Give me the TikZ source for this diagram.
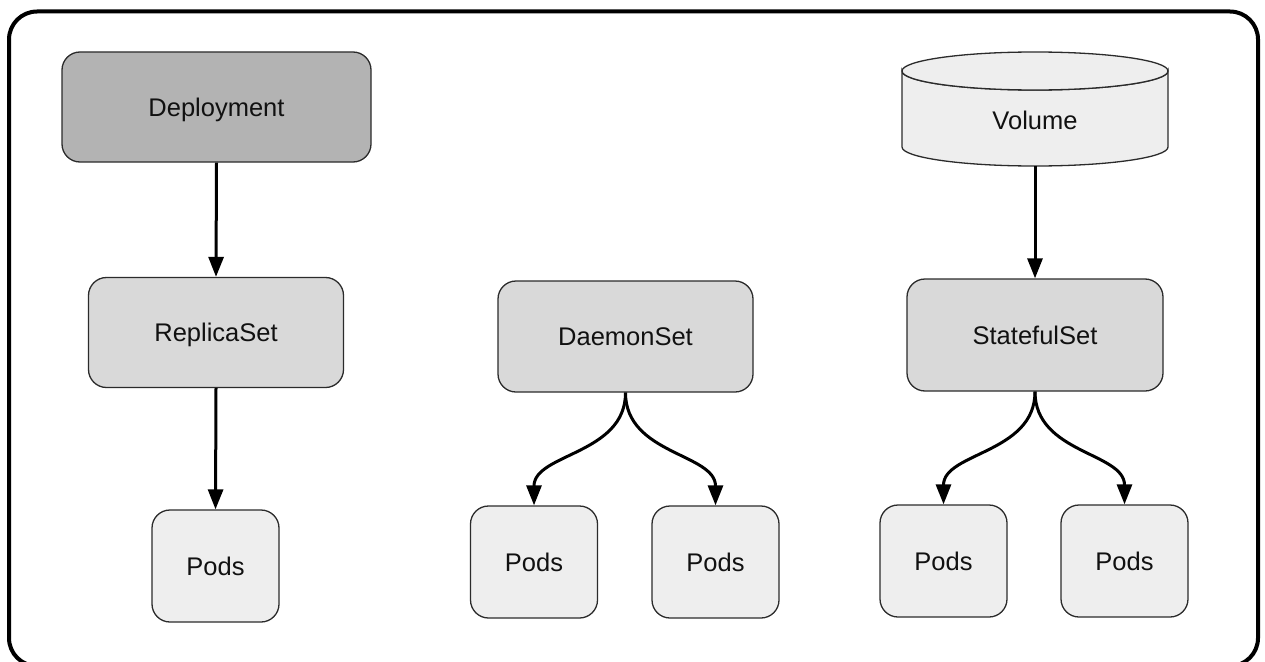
\documentclass[tikz,border=0pt]{standalone}
\usepackage{fontspec}
\setmainfont{Liberation Sans}
\usetikzlibrary{arrows.meta}
\definecolor{darkfill}{HTML}{B3B3B3}
\definecolor{midfill}{HTML}{D9D9D9}
\definecolor{lightfill}{HTML}{EEEEEE}
\definecolor{boxline}{HTML}{2B2B2B}
\definecolor{textcol}{HTML}{111111}
\begin{document}
\begin{tikzpicture}[x=1pt,y=-1pt,
  label text/.style={text=textcol, font=\fontsize{25.5}{30}\selectfont,
    text height=18pt, text depth=0pt, inner sep=0pt},
  box/.style={label text, draw=boxline, line width=1.3pt, rounded corners=18pt},
  dark/.style={box, fill=darkfill},
  mid/.style={box, fill=midfill},
  light/.style={box, fill=lightfill},
  wide/.style={minimum width=255pt, minimum height=110pt},
  pod/.style={light, minimum width=127pt, minimum height=112pt},
  flow/.style={line width=3pt, -{Triangle[length=20pt,width=15pt]}},
]
\useasboundingbox (0,0) rectangle (1265,661);

% outer frame
\draw[line width=4pt, rounded corners=28pt] (9,11.5) rectangle (1258,666);

% left column: Deployment -> ReplicaSet -> Pods
\node[dark, minimum width=309pt, minimum height=110pt] (dep) at (216.5,107) {Deployment};
\node[mid, wide] (rs) at (216,332.5) {ReplicaSet};
\node[pod] (p1) at (215.5,566) {Pods};

% middle column: DaemonSet -> two Pods
\node[mid, wide, minimum height=111pt] (ds) at (625.5,336.5) {DaemonSet};
\node[pod] (p2) at (534,562) {Pods};
\node[pod] (p3) at (715.5,562) {Pods};

% right column: Volume -> StatefulSet -> two Pods
\path[draw=boxline, fill=lightfill, line width=1.3pt]
  (902,71) -- (902,147) arc[start angle=180, end angle=0, x radius=133, y radius=19]
  -- (1168,71) arc[start angle=0, end angle=180, x radius=133, y radius=19] -- cycle;
\draw[boxline, fill=lightfill, line width=1.3pt] (1035,71) ellipse[x radius=133, y radius=19];
\node[label text] (vol) at (1035,120.5) {Volume};
\coordinate (volbase) at (1035,166);

\node[mid, wide, minimum width=256pt, minimum height=112pt] (ss) at (1035,335) {StatefulSet};
\node[pod] (p4) at (943.5,561) {Pods};
\node[pod] (p5) at (1124.5,561) {Pods};

% connectors
\draw[flow] (dep.south) -- (rs.north);
\draw[flow] (rs.south) -- (p1.north);
\draw[flow] (volbase) -- (ss.north);
\draw[flow] (ds.south) .. controls +(0,62) and +(0,-52) .. (p2.north);
\draw[flow] (ds.south) .. controls +(0,62) and +(0,-52) .. (p3.north);
\draw[flow] (ss.south) .. controls +(0,62) and +(0,-52) .. (p4.north);
\draw[flow] (ss.south) .. controls +(0,62) and +(0,-52) .. (p5.north);
\end{tikzpicture}
\end{document}
